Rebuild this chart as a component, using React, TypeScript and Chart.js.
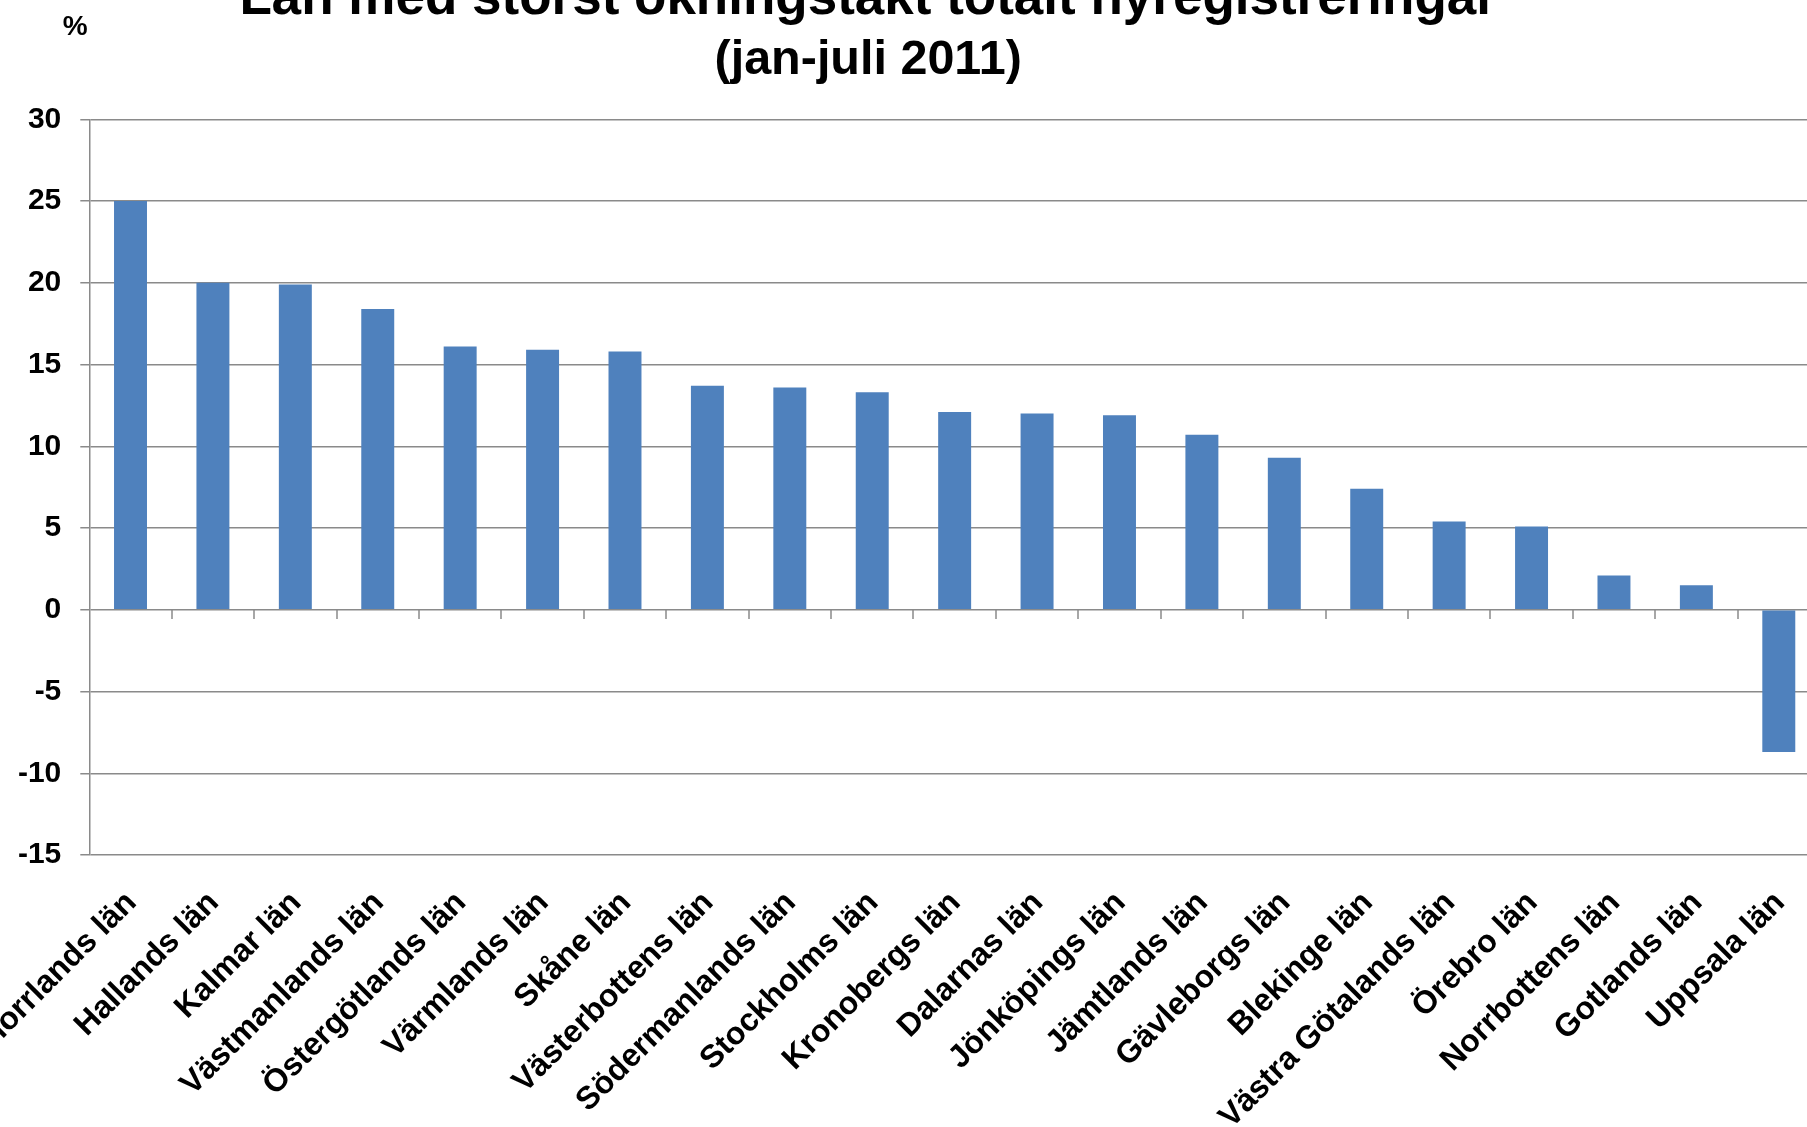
import React, { useEffect, useRef } from 'react';
import { Chart, registerables } from 'chart.js';

Chart.register(...registerables);

// ---- data ----
const categories = [
  'Västernorrlands län',
  'Hallands län',
  'Kalmar län',
  'Västmanlands län',
  'Östergötlands län',
  'Värmlands län',
  'Skåne län',
  'Västerbottens län',
  'Södermanlands län',
  'Stockholms län',
  'Kronobergs län',
  'Dalarnas län',
  'Jönköpings län',
  'Jämtlands län',
  'Gävleborgs län',
  'Blekinge län',
  'Västra Götalands län',
  'Örebro län',
  'Norrbottens län',
  'Gotlands län',
  'Uppsala län',
];
const growthPercent = [
  25.0, 20.0, 19.9, 18.4, 16.1, 15.9, 15.8, 13.7, 13.6, 13.3, 12.1, 12.0, 11.9,
  10.7, 9.3, 7.4, 5.4, 5.1, 2.1, 1.5, -8.7,
];
const titleLine = 'Län med störst ökningstakt totalt nyregistreringar';
const subtitleLine = '(jan-juli 2011)';
const unitLabel = '%';
const yMin = -15;
const yMax = 30;
const yStep = 5;

// ---- styling / layout ----
const FONT = "'Liberation Sans', Arial, Helvetica, sans-serif";
const BAR_COLOR = '#4F81BD';
const GRID_COLOR = '#8A8A8A';
const VIEW_W = 1807;
const VIEW_H = 1127;
const OFFSET_X = 100;
const OFFSET_Y = 32;
const CANVAS_W = 1936;
const CANVAS_H = 1180;

export default function App() {
  const ref = useRef<HTMLCanvasElement | null>(null);

  useEffect(() => {
    if (!ref.current) return;
    Chart.defaults.font.family = FONT;

    const zeroTicks = {
      id: 'zeroTicks',
      afterDatasetsDraw(chart: any) {
        const xs = chart.scales.x;
        const ys = chart.scales.y;
        const ctx = chart.ctx;
        const y0 = Math.round(ys.getPixelForValue(0));
        ctx.save();
        ctx.strokeStyle = GRID_COLOR;
        ctx.lineWidth = 1.5;
        for (let i = 1; i <= categories.length; i++) {
          const bx = Math.round((xs.getPixelForValue(i - 1) + xs.getPixelForValue(i)) / 2);
          ctx.beginPath();
          ctx.moveTo(bx, y0);
          ctx.lineTo(bx, y0 + 9);
          ctx.stroke();
        }
        ctx.restore();
      },
    };

    const unitText = {
      id: 'unitText',
      afterDraw(chart: any) {
        const ctx = chart.ctx;
        const area = chart.chartArea;
        ctx.save();
        ctx.fillStyle = '#000';
        ctx.font = `bold 28px ${FONT}`;
        ctx.textAlign = 'center';
        ctx.textBaseline = 'middle';
        ctx.fillText(unitLabel, area.left - 14, area.top - 92);
        ctx.restore();
      },
    };

    const chart = new Chart(ref.current, {
      type: 'bar',
      data: {
        labels: categories,
        datasets: [
          {
            data: growthPercent,
            backgroundColor: BAR_COLOR,
            borderWidth: 0,
            barPercentage: 0.4,
            categoryPercentage: 1,
          },
        ],
      },
      options: {
        responsive: false,
        animation: false,
        devicePixelRatio: 1,
        layout: { padding: { left: 16.3, right: 16, top: 0, bottom: 0 } },
        plugins: {
          legend: { display: false },
          tooltip: { enabled: false },
          title: {
            display: true,
            text: titleLine,
            color: '#000',
            font: { size: 53, weight: 'bold', lineHeight: 1, family: FONT },
            padding: { top: 5.1, bottom: 0 },
          },
          subtitle: {
            display: true,
            text: subtitleLine,
            color: '#000',
            font: { size: 48.5, weight: 'bold', lineHeight: 1, family: FONT },
            padding: { top: 10.2, bottom: 34.5 },
          },
        },
        scales: {
          x: {
            grid: { display: false },
            border: { display: false },
            ticks: {
              autoSkip: false,
              minRotation: 45,
              maxRotation: 45,
              color: '#000',
              font: { size: 32, weight: 'bold', family: FONT },
              padding: 21,
              labelOffset: 1,
            },
            afterFit: (s: any) => {
              s.paddingLeft = 0;
              s.paddingRight = 0;
              s.height = 293;
            },
          },
          y: {
            min: yMin,
            max: yMax,
            ticks: {
              stepSize: yStep,
              color: '#000',
              font: { size: 30, weight: 'bold', family: FONT },
              padding: 19,
            },
            grid: {
              color: GRID_COLOR,
              lineWidth: 1.5,
              drawTicks: true,
              tickLength: 9,
            },
            border: { display: true, color: GRID_COLOR, width: 1.5 },
            afterFit: (s: any) => {
              s.width = 173;
            },
          },
        },
      },
      plugins: [zeroTicks, unitText],
    });
    return () => chart.destroy();
  }, []);

  return (
    <div
      style={{
        position: 'fixed',
        left: 0,
        top: 0,
        width: VIEW_W,
        height: VIEW_H,
        overflow: 'hidden',
        background: '#fff',
      }}
    >
      <canvas
        ref={ref}
        width={CANVAS_W}
        height={CANVAS_H}
        style={{ position: 'absolute', left: -OFFSET_X, top: -OFFSET_Y, width: CANVAS_W, height: CANVAS_H }}
      />
    </div>
  );
}
